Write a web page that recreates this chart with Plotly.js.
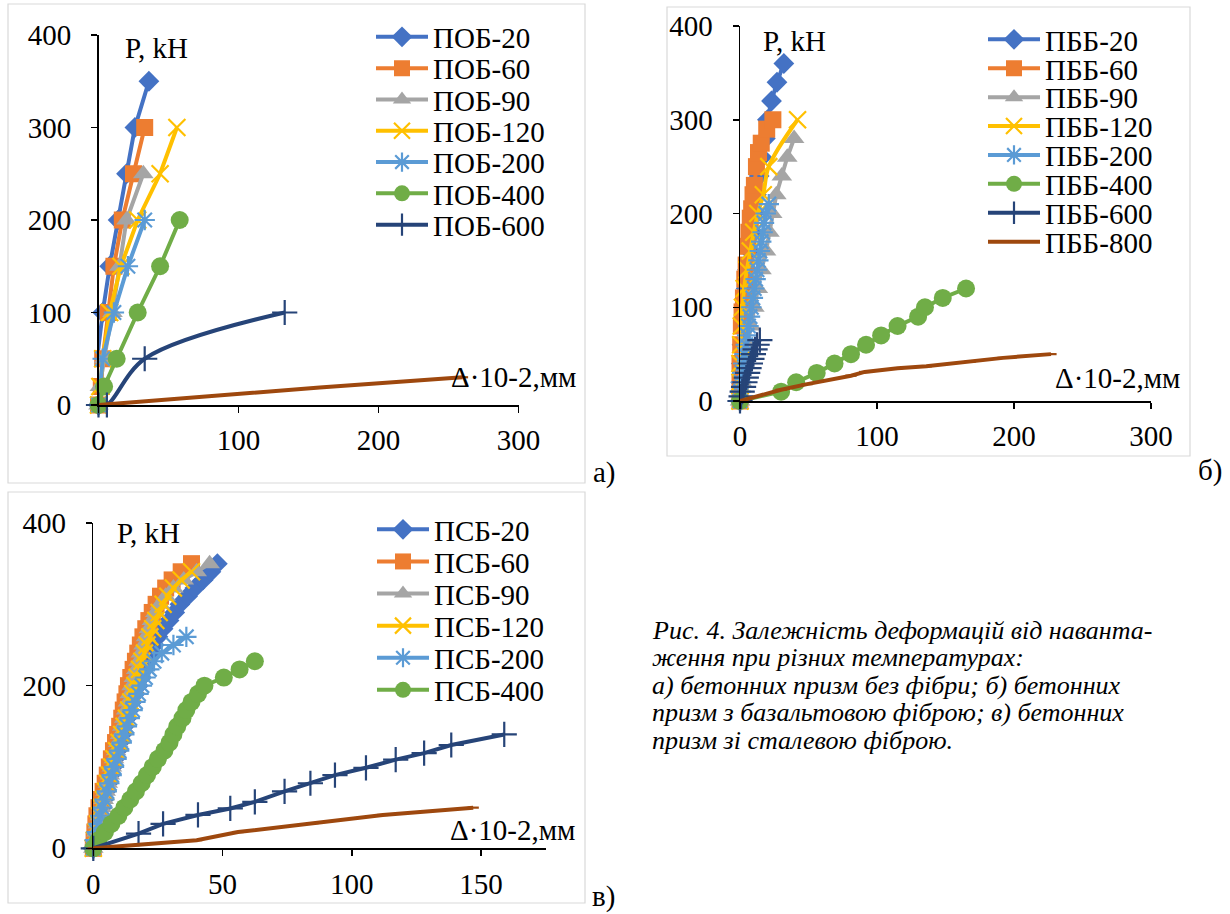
<!DOCTYPE html>
<html><head><meta charset="utf-8">
<script src="https://cdn.plot.ly/plotly-3.0.1.min.js"></script>
<style>
html,body{margin:0;padding:0;background:#fff}
#chart{width:1230px;height:914px}
#chart svg text{font-family:"Liberation Serif","Times New Roman",Times,"DejaVu Serif",serif !important;}
</style>
</head><body><div id="chart"></div>
<script>
// ---------- Panel a) ПОБ (P, kN vs Δ·10-2 mm) ----------
const pobNames = ["ПОБ-20","ПОБ-60","ПОБ-90","ПОБ-120","ПОБ-200","ПОБ-400","ПОБ-600","ПОБ-800"];
const pobX20 = [0,-2,-1,3,8,14,20,26,36];       const pobP20 = [0,20,50,100,150,200,250,300,350];
const pobX60 = [0,2,3,7,11,17,25,33];           const pobP60 = [0,20,50,100,150,200,250,300];
const pobX90 = [0,1,4,10,15,20,32];             const pobP90 = [0,20,50,100,150,200,250];
const pobX120 = [0,1,3,8,16,28,44,56];          const pobP120 = [0,20,50,100,150,200,250,300];
const pobX200 = [0,3,11,21,33];                 const pobP200 = [0,50,100,150,200];
const pobX400 = [0,4,13,28,44,58];              const pobP400 = [0,20,50,100,150,200];
const pobX600 = [0,6,33,133];                   const pobP600 = [0,0,50,100];
const pobX800 = [0,158,260];                    const pobP800 = [0,19,30];

// ---------- Panel б) ПББ ----------
const pbbNames = ["ПББ-20","ПББ-60","ПББ-90","ПББ-120","ПББ-200","ПББ-400","ПББ-600","ПББ-800"];
const pbbP20 = [0,20,40,60,80,100,120,140,160,180,200,220,240,260,280,300,320,340,360];
const pbbX20 = [0,0.5,1,1.5,2.5,3.5,4.5,5.5,7,8.5,10,12,14,16,18.5,20,23,27,32];
const pbbP60 = [0,20,40,60,80,95,110,130,145,165,180,195,205,220,230,250,265,275,290,300];
const pbbX60 = [0,0,0,0.5,1,1.5,2.5,3.5,4.5,5.5,6.5,7.5,8.5,9.5,10.5,12,13.5,15.5,19.5,24];
const pbbP90 = [0,20,40,60,80,100,120,140,160,180,200,220,240,260,280];
const pbbX90 = [0,1.5,3.5,5.5,8,10.5,13,15.7,19,21.5,23.5,26.5,30.5,34.5,39.5];
const pbbP120 = [0,20,40,60,80,100,120,140,160,180,200,220,250,300];
const pbbX120 = [0,0,0,0.5,1,1.8,3,5,7.5,10,13,17,21,42];
const pbbP200 = [0,10,20,30,40,50,60,70,80,90,100,110,120,130,140,150,160,170,180,190,200,210];
const pbbX200 = [0,0.4,0.9,1.6,2.3,3.2,4.2,5.2,6.2,7.3,8.3,9.4,10.4,11.4,12.4,13.4,14.5,15.5,16.5,17.5,18.8,21];
const pbbP400 = [0,10,20,30,40,50,60,70,80,90,100,110,120];
const pbbX400 = [0,30,41,56,69,81,92,103,115,130,135,148,165];
const pbbP600 = [0,5,10,15,20,25,30,35,40,45,50,55,60,65];
const pbbX600 = [0,0.8,1.6,2.6,3.6,4.6,5.6,6.6,7.6,8.7,9.8,11,12.5,14.5];
const pbbP800 = [0,12,18,27,31,35,37,42,46,50];
const pbbX800 = [0,30,49,81,91,115,136,168,192,227];

// ---------- Panel в) ПСБ ----------
const psbNames = ["ПСБ-20","ПСБ-60","ПСБ-90","ПСБ-120","ПСБ-200","ПСБ-400","ПСБ-600","ПСБ-800"];
const psbP20 = [0,10,20,30,40,50,60,70,80,90,100,110,120,130,140,150,160,170,180,190,200,210,220,230,240,250,260,270,280,290,300,310,320,330,340,350];
const psbX20 = [0,0.5,1.1,1.8,2.5,3.3,4.1,4.9,5.7,6.6,7.5,8.4,9.3,10.2,11.1,12,13,14,15,16.2,17.4,18.6,19.8,21,22.3,23.6,25,27,29.3,31.5,33.5,36.5,39.3,42.5,45.5,48];
const psbP60 = [0,10,20,30,40,50,60,70,80,90,100,110,120,130,140,150,160,170,180,190,200,210,220,230,240,250,260,270,280,290,300,310,320,330,340,350];
const psbX60 = [0,0.3,0.6,1,1.4,2.2,3,3.8,4.6,5.4,6.2,7,7.8,8.6,9.4,10.2,11,11.6,12.3,13,13.6,14.5,15.4,16.3,17.2,18.2,19.2,20.3,21.5,22.8,24.3,26,28,30.5,34,38];
const psbP90 = [0,10,20,30,40,50,60,70,80,90,100,110,120,130,140,150,160,170,180,190,200,210,220,230,240,250,260,270,280,290,300,310,320,330,340,350];
const psbX90 = [0,0.6,1.2,1.8,2.5,3.2,4,4.8,5.6,6.4,7.2,8,8.8,9.6,10.4,11.2,12,12.7,13.4,14.1,14.8,15.7,16.6,17.5,18.4,19.4,20.4,21.5,22.7,24,25.8,28,31,35,40,45];
const psbP120 = [0,10,20,30,40,50,60,70,80,90,100,110,120,130,140,150,160,170,180,190,200,210,220,230,240,250,260,270,280,290,300,310,320,330,340];
const psbX120 = [0,0.5,1.1,1.7,2.4,3.1,3.9,4.7,5.5,6.3,7.1,8,9,10,11,11.9,12.8,13.7,14.5,15.3,16.1,17,17.9,18.8,19.8,20.8,21.9,23,24.2,25.5,27,28.8,31,34,38];
const psbP200 = [0,10,20,30,40,50,60,70,80,90,100,110,120,130,140,150,160,170,180,190,200,210,220,230,240,250,260];
const psbX200 = [0,0.6,1.3,2,2.7,3.5,4.3,5.2,6.2,7.1,8,9,10,11,12,13,14.1,15.2,16.3,17.5,18.8,20.2,21.7,23.5,26.5,31,36];
const psbP400 = [0,10,20,30,40,50,60,70,80,90,100,110,120,130,140,150,160,170,180,190,200,210,220,230];
const psbX400 = [0,2,4.5,7,9.7,12,14.3,16.5,18.7,20.8,23,25,27.5,29.5,31,32.5,34.5,36,38,40.5,43,50.5,56.6,62.5];
const psbP600 = [0,18,30,41,49,57,70,80,90,99,109,117,127,140];
const psbX600 = [0,17.5,27,40.5,53,62.5,74,84,93.5,105.5,117,128,138.5,159];
const psbP800 = [0,10,20,31,41,50];
const psbX800 = [0,40,56,85,112,147];

// ---------- tick labels ----------
const xTicksAB = [0,100,200,300];
const yTicksAB = [0,100,200,300,400];
const xTicksC = [0,50,100,150];
const yTicksC = [0,200,400];

// ---------- styling ----------
const W = 1230, H = 914;
const PX = v => v / W, PY = v => 1 - v / H;
const FONT = "Liberation Serif";
const FS = 29;
const colors = ["#4472C4","#ED7D31","#A5A5A5","#FFC000","#5B9BD5","#70AD47","#264478","#9E480E"];
const symbols = ["diamond","square","triangle-up","x-thin-open","asterisk-open","circle","cross-thin-open","line-ew-open"];
const sizes = [16,17,18,17,17,18,18,8];

const traces = [];
const legends = {};
let legCount = 0;
function addLegend(lx, ly) {
  legCount++;
  const id = legCount === 1 ? "legend" : "legend" + legCount;
  legends[id] = {x: PX(lx), y: PY(ly), xanchor: "left", yanchor: "middle",
    bgcolor: "rgba(0,0,0,0)", borderwidth: 0, itemwidth: 52, tracegroupgap: 0,
    font: {family: FONT, size: FS, color: "#000"}, itemclick: false, itemdoubleclick: false};
  return id;
}
function mk(x, y, name, k, axIdx, legendPos, shape) {
  const ax = axIdx === 1 ? "" : String(axIdx);
  const open = symbols[k].indexOf("open") >= 0;
  const t = {
    type: "scatter", mode: "lines+markers", x: x, y: y, name: name,
    xaxis: "x" + ax, yaxis: "y" + ax, cliponaxis: false,
    line: {color: colors[k], width: 4, shape: shape || "linear", smoothing: 1},
    marker: {symbol: symbols[k], size: sizes[k], color: colors[k],
      line: {color: colors[k], width: open ? 2.2 : 0}},
    showlegend: !!legendPos, hoverinfo: "skip"
  };
  if (legendPos) t.legend = addLegend(legendPos[0], legendPos[1]);
  traces.push(t);
}
// legend geometry (px): [left, centre-y]
const legA = y => [371, 37 + 31.3 * y];
const legB = y => [983, 39.5 + 28.9 * y];
const legC = y => [372, 529.5 + 32.1 * y];

// panel a
mk(pobX20, pobP20, pobNames[0], 0, 1, legA(0));
mk(pobX60, pobP60, pobNames[1], 1, 1, legA(1));
mk(pobX90, pobP90, pobNames[2], 2, 1, legA(2));
mk(pobX120, pobP120, pobNames[3], 3, 1, legA(3));
mk(pobX200, pobP200, pobNames[4], 4, 1, legA(4));
mk(pobX400, pobP400, pobNames[5], 5, 1, legA(5));
mk(pobX600, pobP600, pobNames[6], 6, 1, legA(6), "spline");
mk(pobX800, pobP800, pobNames[7], 7, 1, null);
// panel b
mk(pbbX20, pbbP20, pbbNames[0], 0, 2, legB(0));
mk(pbbX60, pbbP60, pbbNames[1], 1, 2, legB(1));
mk(pbbX90, pbbP90, pbbNames[2], 2, 2, legB(2));
mk(pbbX120, pbbP120, pbbNames[3], 3, 2, legB(3), "spline");
mk(pbbX200, pbbP200, pbbNames[4], 4, 2, legB(4));
mk(pbbX400, pbbP400, pbbNames[5], 5, 2, legB(5));
mk(pbbX600, pbbP600, pbbNames[6], 6, 2, legB(6));
mk(pbbX800, pbbP800, pbbNames[7], 7, 2, legB(7));
// panel c
mk(psbX20, psbP20, psbNames[0], 0, 3, legC(0));
mk(psbX60, psbP60, psbNames[1], 1, 3, legC(1));
mk(psbX90, psbP90, psbNames[2], 2, 3, legC(2));
mk(psbX120, psbP120, psbNames[3], 3, 3, legC(3));
mk(psbX200, psbP200, psbNames[4], 4, 3, legC(4));
mk(psbX400, psbP400, psbNames[5], 5, 3, legC(5));
mk(psbX600, psbP600, psbNames[6], 6, 3, null);
mk(psbX800, psbP800, psbNames[7], 7, 3, null);

function xAxis(dom, range, ticks, anchor) {
  return {domain: dom, range: range, tickvals: ticks, ticktext: ticks.map(String), anchor: anchor,
    showline: true, linecolor: "#000", linewidth: 1.5, ticks: "outside", ticklen: 6, tickwidth: 1.5,
    tickcolor: "#000", showgrid: false, zeroline: false, fixedrange: true, ticklabelstandoff: 3,
    tickfont: {family: FONT, size: FS, color: "#000"}};
}
function yAxis(dom, range, ticks, anchor) {
  return {domain: dom, range: range, tickvals: ticks, ticktext: ticks.map(String), anchor: anchor,
    showline: true, linecolor: "#000", linewidth: 1.5, ticks: "outside", ticklen: 6, tickwidth: 1.5,
    tickcolor: "#000", showgrid: false, zeroline: false, fixedrange: true, ticklabelstandoff: 14,
    tickfont: {family: FONT, size: FS, color: "#000"}};
}

function txt(s, x, y, opts) {
  return Object.assign({text: s, xref: "paper", yref: "paper", x: PX(x), y: PY(y),
    xanchor: "center", yanchor: "middle", showarrow: false, borderpad: 0,
    font: {family: FONT, size: FS, color: "#000"}}, opts || {});
}
const capFont = {family: FONT, size: 26, color: "#000", style: "italic"};
const caption = [
  "Рис. 4. Залежність деформацій від наванта-",
  "ження при різних температурах:",
  "а) бетонних призм без фібри; б) бетонних",
  "призм з базальтовою фіброю; в) бетонних",
  "призм зі сталевою фіброю."
];
const annotations = [
  txt("P, kH", 156, 48), txt("P, kH", 794, 41), txt("P, kH", 148, 533),
  txt("Δ·10-2,мм", 513, 377), txt("Δ·10-2,мм", 1117, 378), txt("Δ·10-2,мм", 512, 830),
  txt("а)", 604, 473), txt("б)", 1210, 470), txt("в)", 603, 896)
];
caption.forEach((s, i) => annotations.push(txt(s, 651, 630 + 27.5 * i, {xanchor: "left", font: capFont})));

const frame = (x0, y0, x1, y1) => ({type: "rect", xref: "paper", yref: "paper",
  x0: PX(x0), x1: PX(x1), y0: PY(y1), y1: PY(y0), line: {color: "#d9d9d9", width: 1.2}, fillcolor: "rgba(0,0,0,0)", layer: "below"});

const layout = Object.assign({
  width: W, height: H, margin: {l: 0, r: 0, t: 0, b: 0},
  paper_bgcolor: "#fff", plot_bgcolor: "rgba(0,0,0,0)", showlegend: true,
  font: {family: FONT, size: FS, color: "#000"},
  xaxis: xAxis([PX(98.5), PX(518.5)], [0, 300], xTicksAB, "y"),
  yaxis: yAxis([PY(405), PY(35)], [0, 400], yTicksAB, "x"),
  xaxis2: xAxis([PX(740), PX(1151)], [0, 300], xTicksAB, "y2"),
  yaxis2: yAxis([PY(401), PY(26)], [0, 400], yTicksAB, "x2"),
  xaxis3: xAxis([PX(93.3), PX(545.6)], [0, 175], xTicksC, "y3"),
  yaxis3: yAxis([PY(848.3), PY(523)], [0, 400], yTicksC, "x3"),
  annotations: annotations,
  shapes: [frame(8, 4, 585, 483), frame(667, 7, 1190, 456), frame(8, 492, 585, 903)]
}, legends);

Plotly.newPlot("chart", traces, layout, {staticPlot: true, displayModeBar: false});
</script>
</body></html>
